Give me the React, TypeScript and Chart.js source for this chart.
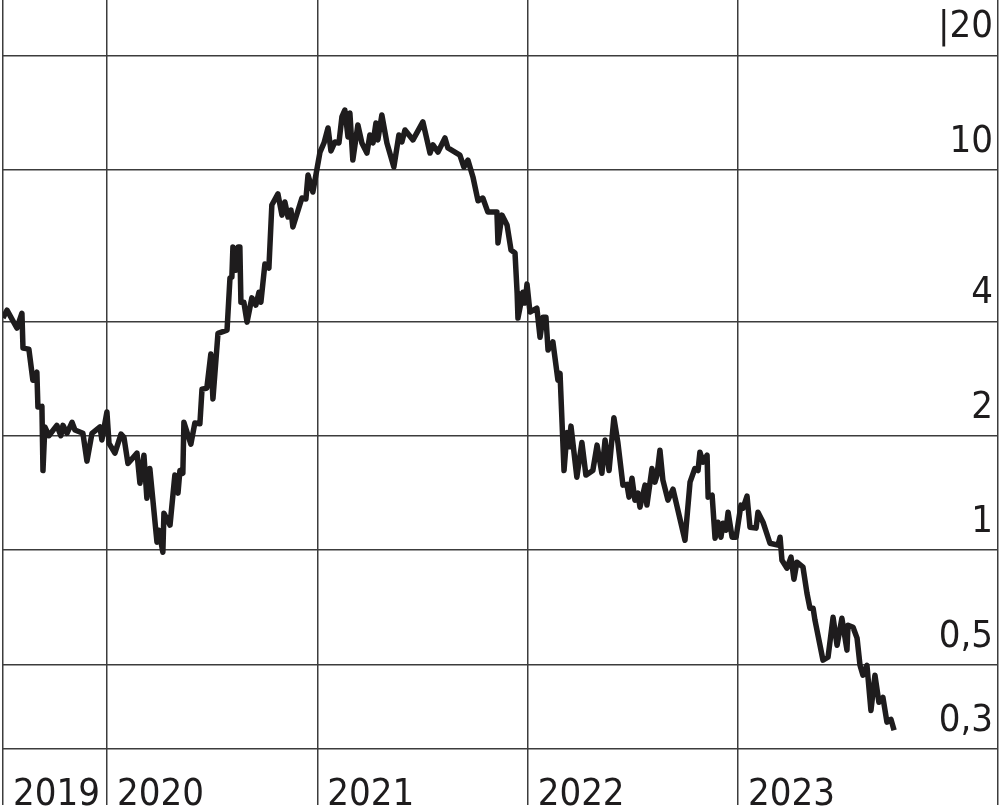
import React, { useEffect, useRef } from "react";
import { Chart, registerables } from "chart.js";

Chart.register(...registerables);

// Dates as decimal years, prices (log scale)
const dates = [
  2019.506, 2019.525, 2019.572, 2019.596, 2019.601, 2019.629, 2019.648, 2019.667, 2019.672, 2019.691,
  2019.696, 2019.705, 2019.724, 2019.762, 2019.781, 2019.791, 2019.810, 2019.834, 2019.848, 2019.886,
  2019.905, 2019.929, 2019.967, 2019.976, 2020.000, 2020.010, 2020.038, 2020.067, 2020.081, 2020.100,
  2020.143, 2020.157, 2020.176, 2020.190, 2020.204, 2020.238, 2020.247, 2020.266, 2020.271, 2020.300,
  2020.323, 2020.338, 2020.347, 2020.361, 2020.366, 2020.399, 2020.418, 2020.442, 2020.452, 2020.475,
  2020.494, 2020.504, 2020.528, 2020.571, 2020.585, 2020.594, 2020.599, 2020.613, 2020.623, 2020.632,
  2020.637, 2020.651, 2020.666, 2020.689, 2020.708, 2020.723, 2020.732, 2020.751, 2020.770, 2020.784,
  2020.813, 2020.832, 2020.846, 2020.861, 2020.875, 2020.884, 2020.927, 2020.946, 2020.956, 2020.979,
  2021.013, 2021.032, 2021.051, 2021.065, 2021.084, 2021.103, 2021.117, 2021.131, 2021.146, 2021.155,
  2021.169, 2021.193, 2021.212, 2021.236, 2021.250, 2021.265, 2021.279, 2021.288, 2021.307, 2021.331,
  2021.364, 2021.388, 2021.402, 2021.417, 2021.455, 2021.502, 2021.536, 2021.550, 2021.574, 2021.607,
  2021.621, 2021.678, 2021.697, 2021.716, 2021.740, 2021.764, 2021.787, 2021.811, 2021.854, 2021.859,
  2021.878, 2021.902, 2021.921, 2021.940, 2021.950, 2021.954, 2021.978, 2021.988, 2021.997, 2022.011,
  2022.044, 2022.059, 2022.073, 2022.087, 2022.097, 2022.120, 2022.144, 2022.154, 2022.173, 2022.187,
  2022.196, 2022.206, 2022.234, 2022.258, 2022.277, 2022.310, 2022.330, 2022.353, 2022.368, 2022.387,
  2022.410, 2022.429, 2022.453, 2022.472, 2022.482, 2022.496, 2022.510, 2022.524, 2022.534, 2022.558,
  2022.567, 2022.591, 2022.605, 2022.615, 2022.629, 2022.643, 2022.667, 2022.691, 2022.748, 2022.772,
  2022.795, 2022.810, 2022.819, 2022.834, 2022.853, 2022.858, 2022.877, 2022.891, 2022.905, 2022.919,
  2022.929, 2022.943, 2022.953, 2022.972, 2022.991, 2023.014, 2023.024, 2023.043, 2023.057, 2023.086,
  2023.095, 2023.119, 2023.152, 2023.190, 2023.200, 2023.209, 2023.233, 2023.252, 2023.266, 2023.280,
  2023.309, 2023.328, 2023.342, 2023.357, 2023.366, 2023.404, 2023.428, 2023.452, 2023.471, 2023.494,
  2023.518, 2023.523, 2023.547, 2023.566, 2023.580, 2023.594, 2023.613, 2023.632, 2023.651, 2023.670,
  2023.689, 2023.708, 2023.727, 2023.742,
];

const prices = [
  4.08, 4.28, 3.84, 4.20, 3.40, 3.38, 2.80, 2.94, 2.38, 2.39,
  1.62, 2.11, 2.00, 2.13, 2.00, 2.13, 2.03, 2.17, 2.07, 2.03,
  1.715, 2.03, 2.11, 1.95, 2.31, 1.91, 1.80, 2.02, 1.98, 1.69,
  1.80, 1.50, 1.778, 1.37, 1.64, 1.05, 1.129, 0.988, 1.251, 1.164,
  1.576, 1.413, 1.62, 1.594, 2.17, 1.90, 2.16, 2.15, 2.65, 2.67,
  3.28, 2.50, 3.72, 3.79, 5.20, 5.23, 6.27, 5.45, 6.27, 6.27,
  4.49, 4.49, 3.98, 4.61, 4.41, 4.77, 4.49, 5.66, 5.52, 8.09,
  8.65, 7.61, 8.24, 7.52, 7.85, 7.08, 8.44, 8.39, 9.70, 8.75,
  11.15, 11.78, 12.90, 11.22, 11.85, 11.78, 13.79, 14.38, 12.21, 14.13,
  10.62, 13.14, 11.78, 11.08, 12.36, 11.78, 13.30, 12.00, 13.95, 11.78,
  10.18, 12.36, 11.85, 12.74, 12.00, 13.38, 11.08, 11.64, 11.15, 12.14,
  11.43, 10.95, 10.18, 10.62, 9.59, 8.30, 8.44, 7.75, 7.75, 6.43,
  7.61, 7.17, 6.16, 6.05, 4.75, 4.08, 4.77, 4.47, 5.01, 4.23,
  4.33, 3.63, 4.10, 4.10, 3.36, 3.53, 2.80, 2.92, 1.62, 2.04,
  1.87, 2.12, 1.556, 1.92, 1.576, 1.62, 1.89, 1.594, 1.95, 1.62,
  2.23, 1.92, 1.483, 1.49, 1.379, 1.547, 1.354, 1.413, 1.298, 1.483,
  1.314, 1.64, 1.51, 1.576, 1.833, 1.528, 1.354, 1.447, 1.062, 1.51,
  1.64, 1.62, 1.811, 1.704, 1.778, 1.379, 1.395, 1.075, 1.185, 1.082,
  1.178, 1.129, 1.259, 1.082, 1.082, 1.314, 1.29, 1.387, 1.149, 1.143,
  1.259, 1.185, 1.043, 1.031, 1.082, 0.941, 0.897, 0.959, 0.839, 0.930,
  0.902, 0.770, 0.704, 0.704, 0.654, 0.514, 0.523, 0.666, 0.562, 0.662,
  0.546, 0.635, 0.627, 0.587, 0.498, 0.469, 0.498, 0.379, 0.469, 0.398,
  0.410, 0.353, 0.359, 0.336,
];

const xMin = 2019.506;
const xMax = 2024.236;
const yearTicks = [xMin, 2020, 2021, 2022, 2023, xMax];
const yearLabels = ["2019", "2020", "2021", "2022", "2023", ""];

const yMin = 0.3;
const yMax = 28;
const priceTicks = [0.3, 0.5, 1, 2, 4, 10, 20];
const priceLabels = ["0,3", "0,5", "1", "2", "4", "10", "|20"];

const FONT_FAMILY = "'DejaVu Sans Condensed', 'Liberation Sans Narrow', 'Arial Narrow', sans-serif";
const GRID = "#3c3c3c";
const INK = "#1e1c1d";

export default function App() {
  const ref = useRef<HTMLCanvasElement>(null);

  useEffect(() => {
    if (!ref.current) return;
    const chart = new Chart(ref.current, {
      type: "line",
      data: {
        datasets: [
          {
            data: dates.map((d, i) => ({ x: d, y: prices[i] })),
            borderColor: INK,
            borderWidth: 5.5,
            pointRadius: 0,
            tension: 0,
            borderJoinStyle: "round",
            borderCapStyle: "butt",
            fill: false,
          },
        ],
      },
      options: {
        responsive: false,
        animation: false,
        devicePixelRatio: 1,
        layout: { padding: { left: 3, right: 0, top: 0, bottom: 0 } },
        plugins: { legend: { display: false }, tooltip: { enabled: false } },
        scales: {
          x: {
            type: "linear",
            min: xMin,
            max: xMax,
            afterBuildTicks: (s: any) => {
              s.ticks = yearTicks.map((v) => ({ value: v }));
            },
            afterFit: (s: any) => {
              s.height = 62;
              s.paddingLeft = 0;
              s.paddingRight = 0;
            },
            grid: {
              color: GRID,
              lineWidth: 1.5,
              drawTicks: true,
              tickLength: 56,
              tickColor: GRID,
              tickWidth: 1.5,
            },
            border: { display: false },
            ticks: {
              autoSkip: false,
              maxRotation: 0,
              align: "start",
              labelOffset: 10,
              padding: -33,
              color: INK,
              font: { family: FONT_FAMILY, size: 38 },
              callback: (_v: any, i: number) => yearLabels[i],
            },
          },
          y: {
            type: "logarithmic",
            position: "right",
            min: yMin,
            max: yMax,
            afterBuildTicks: (s: any) => {
              s.ticks = priceTicks.map((v) => ({ value: v }));
            },
            afterFit: (s: any) => {
              s.width = 2;
              s.paddingTop = 0;
              s.paddingBottom = 0;
            },
            grid: { color: GRID, lineWidth: 1.5, drawTicks: false },
            border: { display: false },
            ticks: {
              mirror: true,
              padding: -5,
              labelOffset: -28,
              color: INK,
              font: { family: FONT_FAMILY, size: 38 },
              callback: (_v: any, i: number) => priceLabels[i],
            },
          },
        },
      },
    });
    return () => chart.destroy();
  }, []);

  return (
    <div style={{ position: "fixed", left: 0, top: 0, width: 1000, height: 811, background: "#fff" }}>
      <canvas ref={ref} width={1000} height={811} />
    </div>
  );
}
